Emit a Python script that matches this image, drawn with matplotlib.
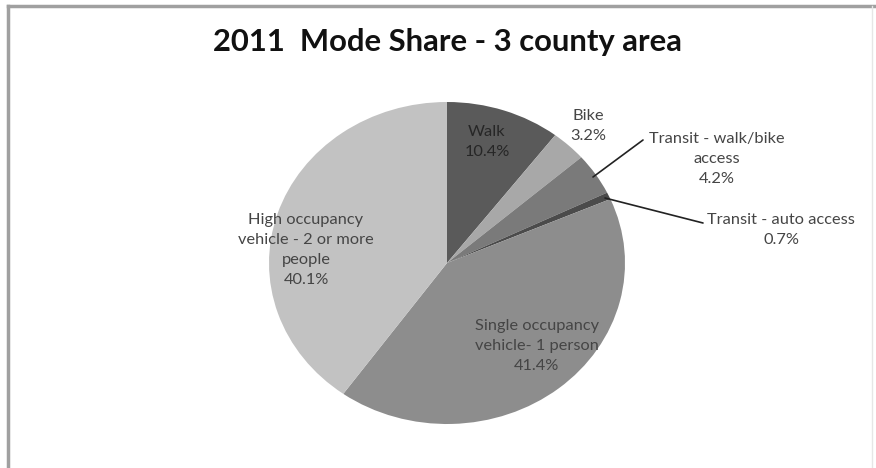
#!/usr/bin/env python3
"""2011 mode share pie for the 3 county area, drawn in Excel-style grays."""
import matplotlib
matplotlib.use("Agg")
import matplotlib.pyplot as plt

W, H = 876, 468

modes = ["Walk", "Bike", "Transit - walk/bike\naccess", "Transit - auto access",
         "Single occupancy\nvehicle- 1 person", "High occupancy\nvehicle - 2 or more\npeople"]
shares = [10.4, 3.2, 4.2, 0.7, 41.4, 40.1]
colors = ["#5a5a5a", "#a8a8a8", "#7a7a7a", "#4b4b4b", "#8d8d8d", "#c2c2c2"]

# pie box in pixels (the original is slightly stretched horizontally)
cx, cy, rx, ry = 447, 263, 178, 161

plt.rcParams["font.family"] = ["Lato", "DejaVu Sans"]
fig = plt.figure(figsize=(W / 100, H / 100), dpi=100)
ax = fig.add_axes([(cx - rx) / W, (H - cy - ry) / H, 2 * rx / W, 2 * ry / H])
ax.pie(shares, colors=colors, startangle=90, counterclock=False,
       wedgeprops=dict(linewidth=0), frame=False)
ax.set_aspect("auto")
ax.set_xlim(-1, 1)
ax.set_ylim(-1, 1)


def d(px, py):
    """pixel -> data coords of the pie axes"""
    return (px - cx) / rx, (cy - py) / ry


# label centres (px) and leader lines for the small outside slices
label_pos = [(487, 142), (588, 126), (717, 159), (781, 230), (537, 346), (306, 250)]
leaders = {2: ((593, 177), (643, 140)), 3: ((605, 198), (703, 223))}

for i, (name, v) in enumerate(zip(modes, shares)):
    txt = f"{name}\n{v:.1f}%"
    col = "#262626" if i == 0 else "#454545"
    x, y = d(*label_pos[i])
    if i in leaders:
        a, b = leaders[i]
        ax.annotate("", xy=d(*a), xytext=d(*b), annotation_clip=False,
                    arrowprops=dict(arrowstyle="-", color="#222222", lw=1.2,
                                    shrinkA=0, shrinkB=0))
    ax.text(x, y, txt, ha="center", va="center", fontsize=11.8, color=col,
            linespacing=1.55, clip_on=False)

fig.text(447 / W, 1 - 42 / H, "2011  Mode Share - 3 county area", ha="center",
         va="center", fontsize=22.3, fontweight="bold", color="#111111")

# chart frame: left and top edges are visible, right/bottom faint
fig.add_artist(plt.Line2D([7.5 / W, 7.5 / W], [0, 1 - 6 / H], color="#a0a0a0", lw=2.5))
fig.add_artist(plt.Line2D([7.5 / W, 1], [1 - 6 / H, 1 - 6 / H], color="#a0a0a0", lw=2.5))
fig.add_artist(plt.Line2D([872 / W, 872 / W], [0, 1 - 6 / H], color="#e6e6e6", lw=1))

fig.savefig("out.png", dpi=100)
